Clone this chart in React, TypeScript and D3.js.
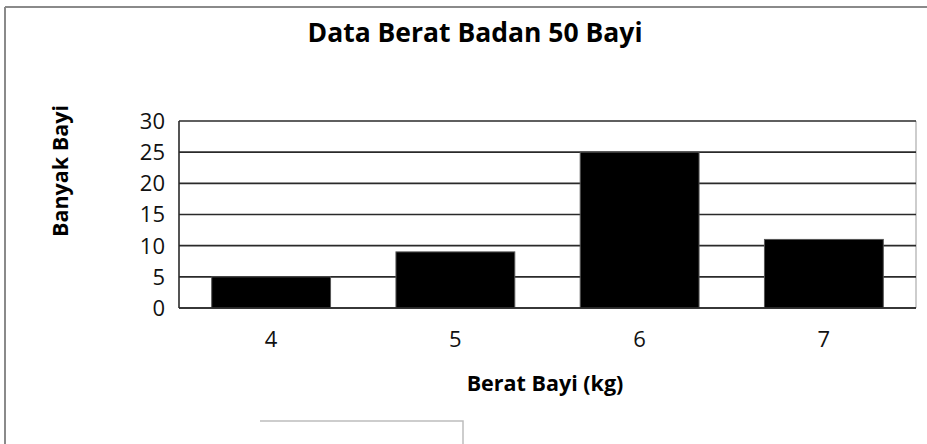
import React from "react";
import * as d3 from "d3";

const categories = ["4", "5", "6", "7"];
const values = [5, 9, 25, 11];
const yTicks = [0, 5, 10, 15, 20, 25, 30];
const title = "Data Berat Badan 50 Bayi";
const xTitle = "Berat Bayi (kg)";
const yTitle = "Banyak Bayi";

const W = 927;
const H = 444;
const plot = { left: 179, right: 916, top: 121, bottom: 308 };
const FONT = "'Open Sans', 'Noto Sans', sans-serif";

export default function App() {
  const x = d3
    .scaleBand<string>()
    .domain(categories)
    .range([plot.left, plot.right])
    .paddingInner(0.355)
    .paddingOuter(0.1775);
  const y = d3.scaleLinear().domain([0, 30]).range([plot.bottom, plot.top]);
  const xc = d3.scaleBand<string>().domain(categories).range([plot.left, plot.right]);

  return (
    <svg
      width={W}
      height={H}
      style={{ position: "absolute", left: 0, top: 0, background: "#fff" }}
    >
      <rect x={0} y={0} width={W} height={H} fill="#fff" />
      {/* outer chart border */}
      <line x1={5} y1={7} x2={W} y2={7} stroke="#8a8a8a" strokeWidth={2} />
      <line x1={5} y1={7} x2={5} y2={H} stroke="#8a8a8a" strokeWidth={2} />

      {/* title */}
      <text
        x={475}
        y={42}
        textAnchor="middle"
        fontFamily={FONT}
        fontWeight="bold"
        fontSize={26.5}
        fill="#000"
      >
        {title}
      </text>

      {/* plot area right border */}
      <line x1={plot.right} y1={plot.top} x2={plot.right} y2={plot.bottom} stroke="#bdbdbd" strokeWidth={1.5} />

      {/* gridlines */}
      {yTicks.map((t) => (
        <line
          key={t}
          x1={plot.left}
          x2={plot.right}
          y1={y(t)}
          y2={y(t)}
          stroke="#2a2a2a"
          strokeWidth={1.6}
        />
      ))}

      {/* bars */}
      {categories.map((c, i) => (
        <rect
          key={c}
          x={x(c)}
          y={y(values[i])}
          width={x.bandwidth()}
          height={y(0) - y(values[i])}
          fill="#000"
          stroke="#555"
          strokeWidth={1}
        />
      ))}

      {/* axis lines */}
      <line x1={plot.left} y1={plot.top} x2={plot.left} y2={plot.bottom} stroke="#2a2a2a" strokeWidth={1.6} />
      <line x1={plot.left} x2={plot.right} y1={y(0)} y2={y(0)} stroke="#2a2a2a" strokeWidth={1.6} />

      {/* y tick labels */}
      {yTicks.map((t) => (
        <text
          key={t}
          x={165}
          y={y(t)}
          dy="0.36em"
          textAnchor="end"
          fontFamily={FONT}
          fontSize={22}
          fill="#111"
        >
          {t}
        </text>
      ))}

      {/* x tick labels */}
      {categories.map((c) => (
        <text
          key={c}
          x={(xc(c) as number) + xc.bandwidth() / 2}
          y={347}
          textAnchor="middle"
          fontFamily={FONT}
          fontSize={22}
          fill="#111"
        >
          {c}
        </text>
      ))}

      {/* x axis title */}
      <text
        x={545}
        y={391}
        textAnchor="middle"
        fontFamily={FONT}
        fontWeight="bold"
        fontSize={21.5}
        fill="#000"
      >
        {xTitle}
      </text>

      {/* y axis title */}
      <text
        transform={`translate(68, 171) rotate(-90)`}
        textAnchor="middle"
        fontFamily={FONT}
        fontWeight="bold"
        fontSize={21.5}
        fill="#000"
      >
        {yTitle}
      </text>

      {/* partial box at bottom */}
      <polyline
        points={`260,421 463,421 463,${H}`}
        fill="none"
        stroke="#bdbdbd"
        strokeWidth={1.5}
      />
    </svg>
  );
}
